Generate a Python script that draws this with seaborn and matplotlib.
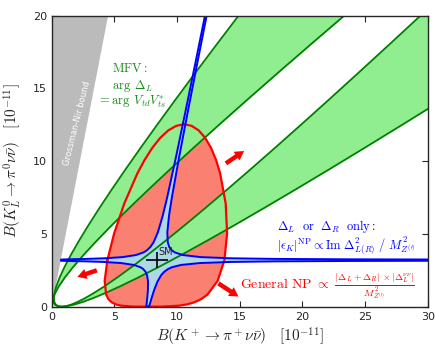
import matplotlib
matplotlib.use("Agg")
import matplotlib.pyplot as plt
import seaborn as sns

# Grossman-Nir wedge
gn_x = [0, 4.5, 0]
gn_y = [0, 20, 20]

# MFV parabolas: B(KL) grid and B(K+) of the four branches
mfv_bl = [0, 0.036, 0.143, 0.321, 0.571, 0.892, 1.394, 2.007, 2.732, 3.568, 4.516,
          5.575, 6.746, 8.028, 9.422, 10.927, 12.544, 14.272, 16.112, 18.063, 20.126, 22.3]
mfv_a = [0.786, 0.518, 0.326, 0.210, 0.171, 0.207, 0.361, 0.633, 1.024, 1.535, 2.165,
         2.914, 3.782, 4.769, 5.876, 7.102, 8.446, 9.910, 11.493, 13.196, 15.017, 16.958]
mfv_b = [0.786, 0.453, 0.233, 0.126, 0.132, 0.253, 0.562, 1.049, 1.713, 2.554, 3.573,
         4.769, 6.142, 7.692, 9.420, 11.324, 13.406, 15.666, 18.102, 20.716, 23.507, 26.475]
mfv_c = [0.786, 1.131, 1.552, 2.049, 2.622, 3.272, 4.191, 5.230, 6.388, 7.665, 9.060,
         10.576, 12.210, 13.964, 15.836, 17.828, 19.939, 22.169, 24.519, 26.987, 29.575, 32.282]
mfv_d = [0.786, 1.234, 1.794, 2.468, 3.255, 4.156, 5.441, 6.904, 8.544, 10.362, 12.356,
         14.528, 16.876, 19.403, 22.106, 24.987, 28.045, 31.28, 34.69, 38.28, 42.05, 45.99]

# general NP region
np_x = [4.442, 4.978, 5.794, 6.837, 7.421, 8.035, 8.667, 9.305, 9.942, 10.564, 11.160,
        11.722, 12.240, 12.703, 13.106, 13.438, 13.880, 13.995, 13.779, 13.243, 12.428,
        11.929, 11.384, 10.80, 10.187, 8.915, 7.658, 6.499, 5.518, 5.115, 4.783, 4.523,
        4.341, 4.226]
np_y = [3.200, 5.027, 7.101, 9.166, 10.10, 10.93, 11.61, 12.12, 12.43, 12.54, 12.43,
        12.12, 11.61, 10.93, 10.10, 9.166, 7.101, 5.027, 3.200, 1.784, 0.833,
        0.521, 0.303, 0.159, 0.074, 0.009, 0.001, 0.009, 0.074, 0.159, 0.303, 0.521,
        0.833, 1.784]

# epsilon_K cross: four branches (left end -> top, top -> right end, ...)
ul_x = [0.752, 1.274, 2.730, 4.222, 5.624, 6.708, 7.314, 7.580, 7.871, 8.128, 8.469,
        8.853, 9.202, 9.914, 10.699, 11.575, 12.225]
ul_y = [3.242, 3.256, 3.285, 3.328, 3.406, 3.547, 3.727, 3.865, 4.100, 4.426, 5.112,
        6.236, 7.471, 10.28, 13.53, 17.22, 19.99]
ur_x = [12.358, 11.726, 10.887, 10.166, 9.579, 9.357, 9.224, 9.260, 9.381, 9.593,
        9.831, 10.483, 11.916, 14.289, 17.830, 23.925, 30.95]
ur_y = [19.99, 17.22, 13.53, 10.28, 7.471, 6.236, 5.112, 4.426, 4.100, 3.865,
        3.727, 3.547, 3.406, 3.328, 3.285, 3.256, 3.242]
lr_x = [30.935, 23.9, 17.791, 14.231, 11.822, 10.327, 9.597, 9.299, 8.990, 8.737,
        8.441, 8.182, 8.012, 7.895, 7.816, 7.768]
lr_y = [3.158, 3.144, 3.116, 3.075, 3.000, 2.871, 2.713, 2.598, 2.411, 2.172,
        1.733, 1.167, 0.713, 0.370, 0.138, 0.015]
ll_x = [7.554, 7.564, 7.593, 7.635, 7.678, 7.686, 7.605, 7.479, 7.286, 7.080, 6.551,
        5.530, 4.164, 2.690, 1.249, 0.732]
ll_y = [0.015, 0.138, 0.370, 0.713, 1.167, 1.733, 2.172, 2.411, 2.598, 2.713, 2.871,
        3.000, 3.075, 3.116, 3.144, 3.158]

sm_x, sm_y = 8.4, 3.2
sm_xerr, sm_yerr = 0.9, 0.55

sns.set_style("ticks")
plt.rcParams["mathtext.fontset"] = "cm"
plt.rcParams["font.family"] = ["DejaVu Sans"]

fig = plt.figure(figsize=(4.36, 3.52), dpi=100)
ax = fig.add_axes([0.1186, 0.1287, 0.8624, 0.8267])

ax.fill(gn_x, gn_y, color="#bbbbbb", lw=0, zorder=1)
ax.text(2.0, 12.6, "Grossman-Nir bound", color="white", fontsize=6,
        rotation=76, ha="center", va="center", zorder=2)

ax.fill(np_x, np_y, facecolor="salmon", edgecolor="none", zorder=2)

ax.fill_betweenx(mfv_bl, mfv_a, mfv_b, color="lightgreen", lw=0, zorder=3)
ax.fill_betweenx(mfv_bl, mfv_c, mfv_d, color="lightgreen", lw=0, zorder=3)

# light blue cross interior, closed outline
cross_x = ul_x + ur_x + lr_x + ll_x
cross_y = ul_y + ur_y + lr_y + ll_y
ax.fill(cross_x, cross_y, color="lightblue", lw=0, zorder=4)

for xs in (mfv_a, mfv_b, mfv_c, mfv_d):
    sns.lineplot(x=xs, y=mfv_bl, sort=False, estimator=None, color="green",
                 lw=1.3, ax=ax, zorder=5)

sns.lineplot(x=np_x + np_x[:1], y=np_y + np_y[:1], sort=False, estimator=None,
             color="red", lw=1.6, ax=ax, zorder=6)

sns.lineplot(x=ll_x + ul_x, y=ll_y + ul_y, sort=False, estimator=None,
             color="blue", lw=1.4, ax=ax, zorder=7)
sns.lineplot(x=ur_x, y=ur_y, sort=False, estimator=None,
             color="blue", lw=1.4, ax=ax, zorder=7)
sns.lineplot(x=lr_x + ll_x[:1], y=lr_y + ll_y[:1], sort=False, estimator=None,
             color="blue", lw=1.4, ax=ax, zorder=7)

ax.errorbar([sm_x], [sm_y], xerr=sm_xerr, yerr=sm_yerr, color="black",
            lw=1.2, capsize=0, zorder=8)
ax.text(8.5, 3.4, "SM", fontsize=7, color="#222222", ha="left", va="bottom", zorder=9)

arrow = dict(arrowstyle="simple,head_width=0.75,head_length=0.65,tail_width=0.32",
             color="red", lw=0, shrinkA=0, shrinkB=0)
ax.annotate("", xy=(15.35, 10.7), xytext=(13.9, 9.85), arrowprops=arrow, zorder=9)
ax.annotate("", xy=(2.05, 2.05), xytext=(3.6, 2.5), arrowprops=arrow, zorder=9)
ax.annotate("", xy=(14.9, 0.7), xytext=(13.3, 1.6), arrowprops=arrow, zorder=9)

green = "#1a8a1a"
ax.text(4.8, 16.35, r"$\mathrm{MFV:}$", color=green, fontsize=9, va="center", zorder=9)
ax.text(4.8, 15.2, r"$\arg\ \Delta_L$", color=green, fontsize=9, va="center", zorder=9)
ax.text(3.6, 14.05, r"$=\arg\ V_{td}V_{ts}^{*}$", color=green, fontsize=9, va="center", zorder=9)

ax.text(18.0, 5.5, r"$\Delta_L\ \ \mathrm{or}\ \ \Delta_R\ \ \mathrm{only:}$",
        color="blue", fontsize=9, va="center", zorder=9)
ax.text(18.0, 4.24, r"$|\epsilon_K|^{\mathrm{NP}}\propto\mathrm{Im}\ \Delta^2_{L(R)}\ /\ M^2_{Z^{(\prime)}}$",
        color="blue", fontsize=9, va="center", zorder=9)
ax.text(15.05, 1.44,
        r"$\mathrm{General\ NP}\ \propto\ \frac{|\Delta_L+\Delta_R|\,\times|\Delta_L^{\nu\nu}|}{M^2_{Z^{(\prime)}}}$",
        color="red", fontsize=10, va="center", zorder=9)

ax.set_xlim(0, 30)
ax.set_ylim(0, 20)
ax.set_xticks([0, 5, 10, 15, 20, 25, 30])
ax.set_yticks([0, 5, 10, 15, 20])
ax.tick_params(direction="in", top=True, right=True, length=4, labelsize=8)
ax.set_xlabel(r"$B(K^+\to\pi^+\nu\bar{\nu})\quad[10^{-11}]$", fontsize=11, labelpad=3)
ax.set_ylabel(r"$B(K_L^0\to\pi^0\nu\bar{\nu})\quad[10^{-11}]$", fontsize=11, labelpad=6)
for s in ax.spines.values():
    s.set_linewidth(1.0)
    s.set_zorder(10)

fig.savefig("out.png", dpi=100)
